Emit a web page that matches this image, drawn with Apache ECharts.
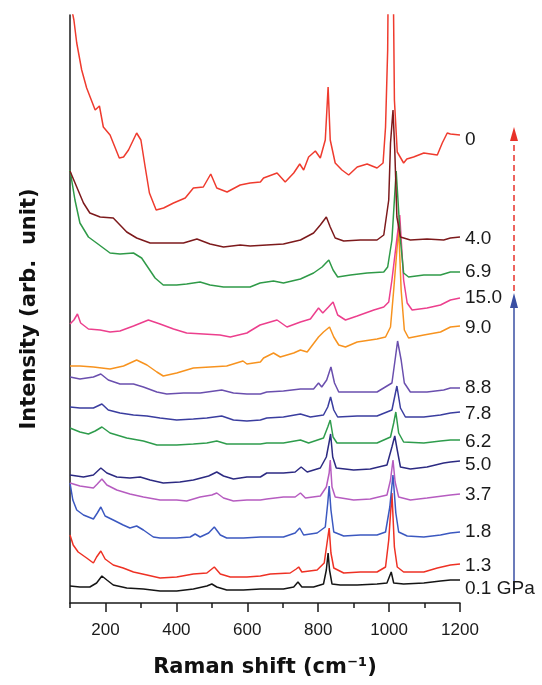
<!DOCTYPE html>
<html><head><meta charset="utf-8">
<script src="https://cdn.jsdelivr.net/npm/echarts@6/dist/echarts.min.js"></script>
<style>html,body{margin:0;padding:0;background:#fff}#c{width:542px;height:685px}</style>
</head><body><div id="c"></div>
<script>
// Pressure labels (bottom to top in drawing order)
const pressureLabels = ['0.1 GPa','1.3','1.8','3.7','5.0','6.2','7.8','8.8','9.0','15.0','6.9','4.0','0'];
const xMajorTicks = [200,400,600,800,1000,1200];
const xMinorTicks = [100,300,500,700,900,1100];

// Spectra: [Raman shift (cm-1), stacked intensity (arb. unit)]
const s_0p1 = [[100,17],[128,16],[156,16],[175,20],[190,27],[204,23],[222,18],[260,15],[307,14],[354,12],[401,12],[448,14],[486,17],[500,19],[514,16],[542,13],[589,13],[637,14],[655,14],[702,14],[731,16],[743,21],[754,16],[787,16],[815,19],[823,33],[828,50],[832,33],[839,19],[862,18],[910,18],[966,19],[994,20],[1006,31],[1013,20],[1041,19],[1098,20],[1145,22],[1173,23],[1200,23]];
const s_1p3 = [[100,68],[109,58],[123,51],[147,45],[166,40],[175,46],[187,52],[199,44],[222,38],[250,35],[279,31],[317,28],[354,25],[401,26],[448,29],[486,30],[507,36],[524,29],[552,26],[599,26],[637,27],[665,29],[721,30],[738,34],[745,36],[754,31],[797,33],[817,40],[825,60],[831,75],[836,50],[844,35],[872,30],[919,31],[966,31],[990,36],[999,63],[1008,110],[1015,56],[1023,36],[1041,31],[1098,31],[1136,35],[1173,38],[1200,39]];
const s_1p8 = [[100,120],[108,103],[119,93],[138,88],[166,84],[177,90],[187,96],[199,87],[222,83],[250,78],[269,75],[288,77],[307,73],[335,66],[354,65],[401,65],[439,66],[453,69],[467,66],[491,70],[507,76],[524,68],[542,65],[589,65],[637,66],[655,66],[702,66],[735,70],[748,75],[759,68],[797,70],[820,76],[827,100],[831,117],[836,93],[844,71],[872,67],[919,68],[966,68],[990,71],[1002,96],[1011,128],[1019,90],[1027,71],[1051,67],[1098,66],[1145,68],[1173,70],[1200,71]];
const s_3p7 = [[100,120],[128,117],[166,115],[177,119],[190,124],[204,118],[232,113],[269,109],[307,106],[354,103],[401,103],[429,102],[467,106],[500,108],[514,110],[533,105],[561,102],[599,103],[637,103],[655,104],[702,106],[735,106],[750,110],[764,105],[806,107],[823,116],[831,130],[834,143],[839,116],[848,106],[900,103],[947,104],[994,108],[1004,123],[1011,143],[1017,121],[1027,106],[1060,103],[1107,105],[1173,108],[1200,109]];
const s_5p0 = [[100,128],[138,126],[166,128],[187,135],[204,130],[232,126],[269,125],[298,126],[326,123],[363,120],[410,121],[448,123],[491,127],[514,131],[533,127],[561,124],[599,126],[637,126],[655,130],[702,130],[735,131],[752,136],[769,131],[806,135],[823,146],[831,161],[835,169],[841,146],[851,135],[900,133],[947,134],[994,138],[1008,156],[1016,167],[1023,153],[1032,136],[1060,134],[1107,136],[1154,140],[1173,141],[1200,142]];
const s_6p2 = [[100,175],[128,171],[152,169],[171,172],[190,176],[213,170],[260,165],[307,162],[345,158],[401,158],[448,159],[486,160],[514,162],[542,159],[599,159],[637,159],[655,160],[702,160],[750,163],[773,160],[815,165],[827,176],[834,183],[842,166],[853,160],[910,160],[966,160],[1004,166],[1013,180],[1019,191],[1027,170],[1041,161],[1098,160],[1145,162],[1173,163],[1200,163]];
const s_7p8 = [[100,196],[128,195],[166,195],[190,199],[208,193],[241,190],[279,188],[317,187],[354,185],[401,183],[448,184],[486,185],[528,187],[561,183],[599,182],[637,183],[655,185],[702,186],[750,189],[778,186],[815,188],[827,196],[835,206],[844,193],[855,186],[910,187],[966,187],[1008,193],[1022,217],[1032,195],[1046,186],[1098,186],[1145,188],[1173,190],[1200,191]];
const s_8p8 = [[100,226],[128,224],[166,226],[187,229],[208,223],[241,219],[279,219],[307,216],[345,211],[373,209],[420,210],[467,210],[528,213],[561,210],[599,209],[637,209],[655,211],[702,212],[750,214],[787,214],[801,220],[810,216],[824,223],[836,236],[846,220],[858,211],[910,211],[966,211],[1008,220],[1018,246],[1024,262],[1034,243],[1043,220],[1060,211],[1107,211],[1154,213],[1173,215],[1200,215]];
const s_9p0 = [[100,237],[128,237],[166,236],[213,234],[251,237],[288,243],[317,238],[345,231],[363,227],[401,230],[448,235],[495,236],[542,237],[588,242],[599,239],[637,241],[646,245],[674,250],[693,246],[731,250],[750,253],[769,251],[801,266],[815,271],[832,276],[844,266],[858,258],[877,256],[910,261],[966,264],[990,266],[1004,276],[1013,313],[1027,375],[1034,313],[1043,273],[1055,265],[1098,268],[1145,271],[1173,276],[1200,277]];
const s_15p0 = [[100,279],[111,283],[121,289],[130,280],[152,274],[185,273],[213,271],[241,272],[279,277],[321,283],[354,279],[392,274],[429,270],[476,269],[523,268],[552,266],[599,270],[608,272],[636,278],[684,283],[712,276],[750,281],[778,284],[801,295],[813,290],[829,296],[842,301],[855,288],[877,283],[910,287],[957,293],[985,296],[999,301],[1008,323],[1030,388],[1041,323],[1051,300],[1065,293],[1107,295],[1145,298],[1173,303],[1200,305]];
const s_6p9 = [[100,433],[114,403],[128,380],[152,366],[175,360],[194,355],[213,350],[241,349],[279,350],[302,345],[321,335],[340,325],[363,318],[401,318],[429,319],[467,321],[495,318],[533,316],[580,316],[608,316],[636,320],[674,322],[702,320],[750,324],[787,330],[811,336],[830,343],[842,333],[855,326],[891,328],[938,330],[985,331],[996,336],[1008,363],[1020,432],[1032,363],[1041,330],[1055,326],[1098,328],[1145,328],[1173,331],[1200,331]];
const s_4p0 = [[100,432],[119,416],[138,400],[156,390],[185,386],[222,385],[241,378],[260,371],[288,365],[326,360],[382,360],[420,360],[458,364],[495,359],[533,356],[580,358],[608,357],[655,358],[702,359],[750,363],[787,370],[806,378],[823,386],[834,376],[848,365],[872,362],[919,363],[966,363],[985,368],[999,403],[1004,460],[1011,493],[1016,453],[1022,386],[1032,366],[1060,363],[1107,364],[1154,363],[1173,365],[1200,366]];
const s_0 = [[100,660],[107,590],[111,583],[119,560],[133,533],[147,515],[171,493],[183,497],[194,476],[213,468],[222,460],[239,445],[251,446],[265,453],[288,470],[300,463],[312,436],[324,410],[343,393],[364,395],[392,400],[425,405],[448,415],[476,416],[497,429],[514,415],[543,411],[580,418],[608,420],[637,421],[646,425],[684,430],[707,421],[731,430],[748,439],[759,433],[773,446],[792,452],[806,445],[820,463],[828,516],[834,463],[848,440],[867,433],[886,428],[910,436],[938,439],[966,435],[983,440],[990,476],[996,553],[1004,900],[1015,503],[1023,451],[1041,440],[1050,444],[1069,446],[1098,450],[1136,448],[1150,460],[1164,470],[1173,469],[1200,468]];

const spectra = [s_0p1,s_1p3,s_1p8,s_3p7,s_5p0,s_6p2,s_7p8,s_8p8,s_9p0,s_15p0,s_6p9,s_4p0,s_0];
const lineColors = ['#151515','#ee3124','#3b58c0','#b65cc0','#2c2a82','#2e9c4c','#3a3d9f','#6a4fae','#f7931f','#ec3f8d','#2f9a48','#7d1a1c','#ef3b2e'];
const labelShift = [9,2,0,1,4,2,2,0,2,0,0,2,5];

const chart = echarts.init(document.getElementById('c'), null, {renderer:'canvas'});
const FONT = '"Liberation Sans", Arial, sans-serif';
const series = spectra.map((d, i) => ({
  type: 'line', data: d, showSymbol: false, symbol: 'none', smooth: false, clip: true,
  lineStyle: {color: lineColors[i], width: 1.5},
  itemStyle: {color: lineColors[i]},
  endLabel: {show: true, formatter: pressureLabels[i], color: '#1a1a1a', fontSize: 19,
    fontFamily: FONT, distance: 5, offset: [0, labelShift[i]]},
  z: 2 + i
}));

chart.setOption({
  animation: false,
  backgroundColor: '#fff',
  grid: {left: 70, right: 82, top: 15, bottom: 82, containLabel: false, outerBoundsMode: 'none'},
  xAxis: [{
    type: 'value', min: 100, max: 1200, position: 'bottom',
    axisLine: {show: true, onZero: false, lineStyle: {color: '#1a1a1a', width: 1.5}},
    axisTick: {show: true, customValues: xMajorTicks, length: 9, lineStyle: {color: '#1a1a1a', width: 1.5}},
    axisLabel: {show: true, customValues: xMajorTicks, fontSize: 17, color: '#1a1a1a', fontFamily: FONT, margin: 19,
      formatter: v => String(v)},
    splitLine: {show: false},
    name: 'Raman shift (cm⁻¹)', nameLocation: 'middle', nameGap: 54,
    nameTextStyle: {fontSize: 21, fontWeight: 'bold', color: '#111', fontFamily: '"DejaVu Sans", sans-serif'}
  }, {
    type: 'value', min: 100, max: 1200, position: 'bottom', gridIndex: 0,
    axisLine: {show: false},
    axisTick: {show: true, customValues: xMinorTicks, length: 5, lineStyle: {color: '#1a1a1a', width: 1.5}},
    axisLabel: {show: false}, splitLine: {show: false}
  }],
  yAxis: {
    type: 'value', min: 0, max: 588,
    axisLine: {show: true, onZero: false, lineStyle: {color: '#1a1a1a', width: 1.5}},
    axisTick: {show: false}, axisLabel: {show: false}, splitLine: {show: false},
    name: 'Intensity (arb.  unit)', nameLocation: 'middle', nameGap: 30,
    nameTextStyle: {fontSize: 21, fontWeight: 'bold', color: '#111', fontFamily: '"DejaVu Sans", sans-serif'}
  },
  series: series,
  graphic: [
    {type: 'line', shape: {x1: 514, y1: 593, x2: 514, y2: 304}, style: {stroke: '#3a4fa3', lineWidth: 1.5}, silent: true},
    {type: 'polygon', shape: {points: [[514, 293], [510, 308], [518, 308]]}, style: {fill: '#3a4fa3'}, silent: true},
    {type: 'line', shape: {x1: 514, y1: 291, x2: 514, y2: 140}, style: {stroke: '#e8322a', lineWidth: 1.5, lineDash: [6, 4]}, silent: true},
    {type: 'polygon', shape: {points: [[514, 127], [510, 141], [518, 141]]}, style: {fill: '#e8322a'}, silent: true}
  ]
});
</script></body></html>
